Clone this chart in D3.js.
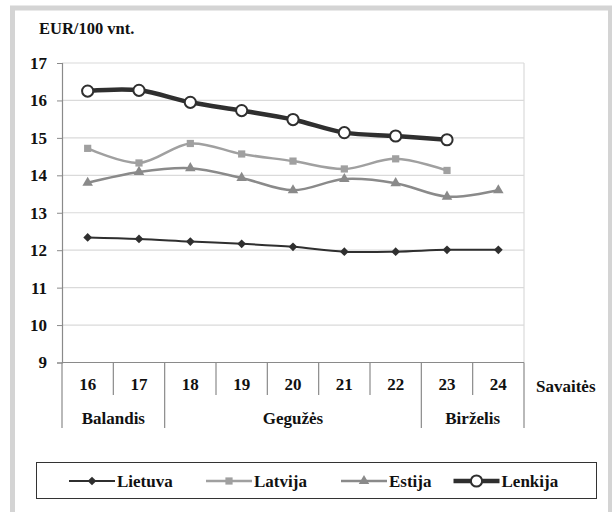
<!DOCTYPE html>
<html>
<head>
<meta charset="utf-8">
<script src="https://cdn.jsdelivr.net/npm/d3@7"></script>
<style>
  body { margin: 0; background: #fff; }
  svg text { font-family: "Liberation Serif", "Times New Roman", Tinos, "DejaVu Serif", serif !important; font-weight: bold; fill: #111; }
</style>
</head>
<body>
<div id="chart"></div>
<script>
var weeks = ["16", "17", "18", "19", "20", "21", "22", "23", "24"];
var weekMonth = ["Balandis", "Balandis", "Gegužės", "Gegužės", "Gegužės", "Gegužės", "Gegužės", "Birželis", "Birželis"];
var months = ["Balandis", "Gegužės", "Birželis"];
var yTicks = [9, 10, 11, 12, 13, 14, 15, 16, 17];

var lietuva = [12.34, 12.30, 12.23, 12.17, 12.09, 11.96, 11.96, 12.01, 12.01];
var latvija = [14.72, 14.33, 14.85, 14.57, 14.38, 14.17, 14.44, 14.13, null];
var estija = [13.80, 14.09, 14.19, 13.93, 13.60, 13.90, 13.79, 13.43, 13.60];
var lenkija = [16.25, 16.27, 15.95, 15.73, 15.49, 15.14, 15.05, 14.95, null];

var seriesNames = ["Lietuva", "Latvija", "Estija", "Lenkija"];

var series = [
  { name: seriesNames[0], values: lietuva, color: "#2f2f2f", width: 2, symbol: "diamond" },
  { name: seriesNames[1], values: latvija, color: "#a0a0a0", width: 2.5, symbol: "square" },
  { name: seriesNames[2], values: estija, color: "#8a8a8a", width: 2.5, symbol: "triangle" },
  { name: seriesNames[3], values: lenkija, color: "#2f2f2f", width: 4.5, symbol: "circle" }
];

var W = 612, H = 512;
var FONT = '"Liberation Serif", "Times New Roman", Tinos, "DejaVu Serif", serif';

var svg = d3.select("#chart").append("svg")
  .attr("width", W).attr("height", H);

// grey frame
svg.append("rect")
  .attr("x", 12.5).attr("y", 8).attr("width", 598).attr("height", 530)
  .attr("fill", "#fff").attr("stroke", "#d4d4d4").attr("stroke-width", 5);

var x = d3.scaleBand().domain(weeks).range([62, 524]);
var y = d3.scaleLinear().domain([9, 17]).range([362.5, 63]);

// gridlines
svg.append("g").selectAll("line").data(yTicks.slice(1)).enter().append("line")
  .attr("x1", 62).attr("x2", 524)
  .attr("y1", function(d) { return y(d); }).attr("y2", function(d) { return y(d); })
  .attr("stroke", "#dadada").attr("stroke-width", 1.2);

// right border of plot
svg.append("line").attr("x1", 524).attr("x2", 524).attr("y1", y(17)).attr("y2", y(9))
  .attr("stroke", "#dadada").attr("stroke-width", 1.2);

// y axis
var yAxis = svg.append("g").attr("transform", "translate(62,0)")
  .call(d3.axisLeft(y).tickValues(yTicks).tickFormat(d3.format("d")).tickSize(5).tickPadding(10))
  .attr("font-family", FONT);
yAxis.select(".domain").attr("stroke", "#8a8a8a").attr("stroke-width", 1.2);
yAxis.selectAll(".tick line").attr("stroke", "#8a8a8a");
yAxis.selectAll("text").style("font-size", "17px").attr("fill", "#111");

// x axis baseline
svg.append("line").attr("x1", 62).attr("x2", 524).attr("y1", y(9)).attr("y2", y(9))
  .attr("stroke", "#8a8a8a").attr("stroke-width", 1.2);

// week and month dividers
var rowWeek = 395, rowMonth = 428;
svg.append("g").selectAll("line").data(weeks).enter().append("line")
  .attr("x1", function(d) { return x(d); }).attr("x2", function(d) { return x(d); })
  .attr("y1", y(9))
  .attr("y2", function(d, i) { return (i === 0 || weekMonth[i] !== weekMonth[i - 1]) ? rowMonth : rowWeek; })
  .attr("stroke", "#8a8a8a").attr("stroke-width", 1.2);
svg.append("line").attr("x1", 524).attr("x2", 524).attr("y1", y(9)).attr("y2", rowMonth)
  .attr("stroke", "#8a8a8a").attr("stroke-width", 1.2);

svg.append("g").selectAll("text").data(weeks).enter().append("text")
  .attr("x", function(d) { return x(d) + x.bandwidth() / 2; })
  .attr("y", 390).attr("text-anchor", "middle").style("font-size", "17px")
  .text(function(d) { return d; });

months.forEach(function(m) {
  var ws = weeks.filter(function(w, i) { return weekMonth[i] === m; });
  var x0 = x(ws[0]), x1 = x(ws[ws.length - 1]) + x.bandwidth();
  svg.append("text").attr("x", (x0 + x1) / 2).attr("y", 424)
    .attr("text-anchor", "middle").style("font-size", "17px").text(m);
});

svg.append("text").attr("x", 536).attr("y", 392).style("font-size", "17px").text("Savaitės");
svg.append("text").attr("x", 39).attr("y", 34).style("font-size", "16.5px").text("EUR/100 vnt.");

function drawMarker(g, type, cx, cy, color) {
  if (type === "circle") {
    g.append("circle").attr("cx", cx).attr("cy", cy).attr("r", 5.6)
      .attr("fill", "#fff").attr("stroke", "#2f2f2f").attr("stroke-width", 2);
  } else if (type === "diamond") {
    g.append("path").attr("d", d3.symbol().type(d3.symbolSquare).size(38)())
      .attr("transform", "translate(" + cx + "," + cy + ") rotate(45)").attr("fill", color);
  } else if (type === "square") {
    g.append("path").attr("d", d3.symbol().type(d3.symbolSquare).size(52)())
      .attr("transform", "translate(" + cx + "," + cy + ")").attr("fill", color);
  } else {
    g.append("path").attr("d", d3.symbol().type(d3.symbolTriangle).size(48)())
      .attr("transform", "translate(" + cx + "," + cy + ")").attr("fill", color);
  }
}

var line = d3.line()
  .defined(function(d) { return d != null; })
  .x(function(d, i) { return x(weeks[i]) + x.bandwidth() / 2; })
  .y(function(d) { return y(d); })
  .curve(d3.curveCatmullRom.alpha(0.5));

series.forEach(function(s) {
  var g = svg.append("g");
  g.append("path").datum(s.values).attr("d", line)
    .attr("fill", "none").attr("stroke", s.color).attr("stroke-width", s.width)
    .attr("stroke-linejoin", "round");
  s.values.forEach(function(v, i) {
    if (v == null) return;
    drawMarker(g, s.symbol, x(weeks[i]) + x.bandwidth() / 2, y(v), s.color);
  });
});

// legend
svg.append("rect").attr("x", 36.5).attr("y", 462.5).attr("width", 560).attr("height", 36)
  .attr("fill", "#fff").attr("stroke", "#333").attr("stroke-width", 1);
var legendX = [69, 206, 341, 453.5];
series.forEach(function(s, i) {
  var g = svg.append("g");
  var lx = legendX[i], ly = 481;
  g.append("line").attr("x1", lx).attr("x2", lx + 46).attr("y1", ly).attr("y2", ly)
    .attr("stroke", s.color).attr("stroke-width", s.width);
  drawMarker(g, s.symbol, lx + 23, ly, s.color);
  g.append("text").attr("x", lx + 48).attr("y", ly + 6).style("font-size", "17px").text(s.name);
});
</script>
</body>
</html>
